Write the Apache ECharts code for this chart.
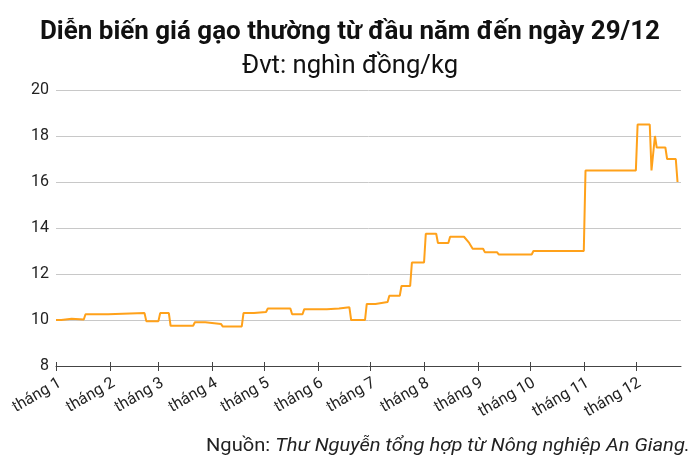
<!DOCTYPE html>
<html>
<head>
<meta charset="utf-8">
<script src="https://cdn.jsdelivr.net/npm/echarts@6/dist/echarts.min.js"></script>
<style>
  html, body { margin: 0; padding: 0; background: #ffffff; }
  #chart { width: 700px; height: 467px; }
</style>
</head>
<body>
<div id="chart"></div>
<script>
// ---- Data ----
const titleText = 'Diễn biến giá gạo thường từ đầu năm đến ngày 29/12';
const subtitleText = 'Đvt: nghìn đồng/kg';
const sourceLead = 'Nguồn: ';
const sourceRest = 'Thư Nguyễn tổng hợp từ Nông nghiệp An Giang.';

// Month starts as day-of-year index (0 = 1 January)
const monthStarts = [0, 31, 59, 90, 120, 151, 181, 212, 243, 273, 304, 334];
const monthLabels = ['tháng 1', 'tháng 2', 'tháng 3', 'tháng 4', 'tháng 5', 'tháng 6',
                     'tháng 7', 'tháng 8', 'tháng 9', 'tháng 10', 'tháng 11', 'tháng 12'];

// Vertices of the price line: day-of-year index and price (thousand VND/kg)
const dayIndex = [0, 3, 4, 9, 10, 16, 17, 30, 31, 51, 52, 59, 60, 65, 66, 79, 80, 86, 87, 95,
                  96, 107, 108, 114, 115, 121, 122, 135, 136, 142, 143, 156, 157, 163, 164, 169,
                  170, 178, 179, 184, 185, 191, 192, 198, 199, 204, 205, 212, 213, 219, 220, 226,
                  227, 235, 238, 239, 240, 246, 247, 254, 255, 274, 275, 304, 305, 334, 335, 342,
                  343, 345, 346, 351, 352, 357, 358];
const price = [10.0, 10.0, 10.05, 10.05, 10.02, 10.02, 10.25, 10.25, 10.3, 10.3, 9.95, 9.95, 10.3, 10.3, 9.75, 9.75, 9.9, 9.9, 9.83, 9.83,
               9.72, 9.72, 10.3, 10.3, 10.35, 10.35, 10.5, 10.5, 10.25, 10.25, 10.47, 10.47, 10.5, 10.5, 10.55, 10.55,
               10.0, 10.0, 10.7, 10.7, 10.78, 10.78, 11.05, 11.05, 11.48, 11.48, 12.5, 12.5, 13.75, 13.75, 13.35, 13.35,
               13.62, 13.62, 13.35, 13.35, 13.1, 13.1, 12.95, 12.95, 12.85, 12.85, 13.0, 13.0, 16.5, 16.5, 18.5, 18.5,
               16.5, 18.0, 17.5, 17.5, 17.0, 17.0, 16.0];

const yMin = 8, yMax = 20, yStep = 2;
const xMax = 360;

// ---- Helpers ----
function measure(font, text) {
  const c = document.createElement('canvas').getContext('2d');
  c.font = font;
  return c.measureText(text).width;
}
const FONT = 'Roboto';
const titleFont = 'bold 26px ' + FONT;
const subFont = '25px ' + FONT;
const srcFontN = '18px ' + FONT;
const srcFontI = 'italic 18px ' + FONT;
const titleScale = 620 / measure(titleFont, titleText);
const subScale = 216 / measure(subFont, subtitleText);
const srcW = measure(srcFontN, sourceLead) + measure(srcFontI, sourceRest);
const srcScale = 484 / srcW;

const lineData = dayIndex.map((d, i) => [d, price[i]]);

const chart = echarts.init(document.getElementById('chart'), null, { renderer: 'canvas' });
const option = {
  backgroundColor: '#ffffff',
  animation: false,
  grid: { left: 56, right: 19, top: 90, bottom: 101, containLabel: false, outerBoundsMode: 'none' },
  xAxis: [{
    type: 'value', min: 0, max: xMax, position: 'bottom',
    axisLine: { show: true, onZero: false, lineStyle: { color: '#444', width: 1 } },
    axisTick: { show: true, customValues: monthStarts, length: 5, lineStyle: { color: '#444' } },
    axisLabel: {
      show: true, customValues: monthStarts, rotate: 30, margin: 9,
      align: 'right', verticalAlign: 'top',
      color: '#222', fontFamily: FONT, fontSize: 16,
      formatter: v => monthLabels[monthStarts.indexOf(v)]
    },
    splitLine: { show: false }
  }, {
    type: 'value', min: 0, max: xMax, position: 'bottom', offset: 0,
    axisLine: { show: false, onZero: false },
    axisTick: { show: true, inside: true, customValues: monthStarts, length: 4, lineStyle: { color: '#444' } },
    axisLabel: { show: false },
    splitLine: { show: false }
  }],
  yAxis: {
    type: 'value', min: yMin, max: yMax, interval: yStep,
    axisLine: { show: false }, axisTick: { show: false },
    axisLabel: { color: '#222', fontFamily: FONT, fontSize: 16, margin: 7 },
    splitLine: { show: true, lineStyle: { color: '#c8c8c8', width: 1 } }
  },
  series: [{
    type: 'line', xAxisIndex: 0, data: lineData,
    showSymbol: false, symbol: 'none',
    lineStyle: { color: '#FFA11A', width: 2 },
    itemStyle: { color: '#FFA11A' },
    z: 5
  }],
  graphic: [
    { type: 'text', x: 350, y: 32, scaleX: titleScale,
      style: { text: titleText, font: titleFont, fill: '#111', textAlign: 'center', textVerticalAlign: 'middle' } },
    { type: 'text', x: 350, y: 67, scaleX: subScale,
      style: { text: subtitleText, font: subFont, fill: '#111', textAlign: 'center', textVerticalAlign: 'middle' } },
    { type: 'text', x: 690, y: 446, scaleX: srcScale,
      style: {
        text: '{n|' + sourceLead + '}{i|' + sourceRest + '}',
        textAlign: 'right', textVerticalAlign: 'middle',
        rich: {
          n: { fontFamily: FONT, fontSize: 18, fill: '#222', color: '#222' },
          i: { fontFamily: FONT, fontSize: 18, fontStyle: 'italic', fill: '#222', color: '#222' }
        }
      } }
  ]
};
chart.setOption(option);
</script>
</body>
</html>
